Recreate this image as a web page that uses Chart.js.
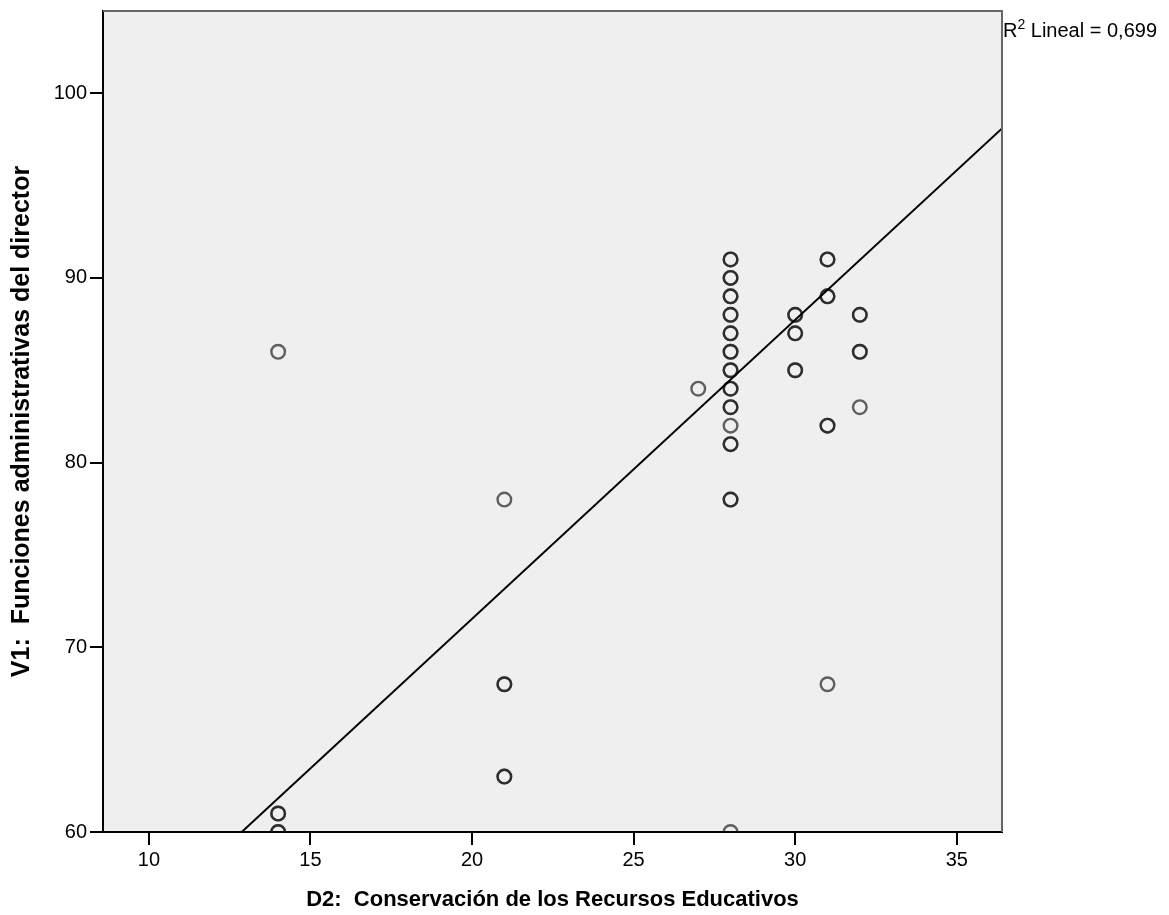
<!DOCTYPE html>
<html>
<head>
<meta charset="utf-8">
<script src="https://cdn.jsdelivr.net/npm/chart.js@4"></script>
<style>
  html, body { margin: 0; padding: 0; background: #fff; }
  #wrap { width: 1169px; height: 915px; }
</style>
</head>
<body>
<div id="wrap"><canvas id="scatterChart"></canvas></div>
<script>
// puntos (duplicados = círculos superpuestos, más oscuros)
const xValues = [14, 14, 14, 14, 14,
                 21, 21, 21, 21, 21,
                 27,
                 28, 28, 28, 28, 28, 28, 28, 28, 28, 28, 28, 28, 28, 28, 28, 28, 28, 28,
                 28, 28, 28, 28, 28, 28,
                 30, 30, 30, 30, 30, 30,
                 31, 31, 31, 31, 31, 31, 31,
                 32, 32, 32, 32, 32];
const yValues = [86, 61, 61, 60, 60,
                 78, 68, 68, 63, 63,
                 84,
                 91, 91, 90, 90, 89, 89, 88, 88, 87, 87, 86, 86, 85, 85, 84, 84, 83, 83,
                 82, 81, 81, 78, 78, 60,
                 88, 88, 87, 87, 85, 85,
                 91, 91, 89, 89, 82, 82, 68,
                 88, 88, 86, 86, 83];

const xTicks = [10, 15, 20, 25, 30, 35];
const yTicks = [60, 70, 80, 90, 100];
const xRange = [8.58, 36.4];
const yRange = [60, 104.45];

const fitSlope = 1.619;
const fitIntercept = 39.16;
const r2Text = '0,699';

const xTitle = 'D2:  Conservación de los Recursos Educativos';
const yTitle = 'V1:  Funciones administrativas del director';

let points = xValues.map((x, i) => ({ x: x, y: yValues[i] }));
let fitLine = xRange.map(x => ({ x: x, y: fitIntercept + fitSlope * x }));

const frame = {
    id: 'frame',
    beforeDraw(chart) {
        const a = chart.chartArea;
        const ctx = chart.ctx;
        ctx.save();
        ctx.fillStyle = '#efefef';
        ctx.fillRect(a.left, a.top, a.right - a.left, a.bottom - a.top);
        ctx.restore();
    },
    afterDraw(chart) {
        const a = chart.chartArea;
        const ctx = chart.ctx;
        ctx.save();
        ctx.strokeStyle = '#666';
        ctx.lineWidth = 2;
        ctx.beginPath();
        ctx.moveTo(a.left, a.top);
        ctx.lineTo(a.right, a.top);
        ctx.lineTo(a.right, a.bottom);
        ctx.stroke();

        // R² Lineal label
        ctx.fillStyle = '#000';
        ctx.textBaseline = 'alphabetic';
        ctx.font = '20px "Liberation Sans", Arial, sans-serif';
        let x = a.right + 1;
        let y = 37;
        ctx.fillText('R', x, y);
        x += ctx.measureText('R').width;
        ctx.font = '14px "Liberation Sans", Arial, sans-serif';
        ctx.fillText('2', x, y - 8);
        x += ctx.measureText('2').width;
        ctx.font = '20px "Liberation Sans", Arial, sans-serif';
        ctx.fillText(' Lineal = ' + r2Text, x, y);
        ctx.restore();
    }
};

let scatterChart = new Chart(document.getElementById('scatterChart'), {
    type: 'scatter',
    data: {
        datasets: [{
            type: 'line',
            data: fitLine,
            borderColor: '#000',
            borderWidth: 2,
            pointRadius: 0,
            fill: false,
            clip: 0,
        }, {
            data: points,
            pointStyle: 'circle',
            pointRadius: 6.8,
            pointBorderWidth: 2.4,
            backgroundColor: 'rgba(0,0,0,0)',
            borderColor: 'rgba(20,20,20,0.66)',
            clip: 0,
        }],
    },
    options: {
        responsive: true,
        maintainAspectRatio: false,
        animation: false,
        layout: {
            padding: { left: 0, top: 11, right: 167, bottom: 0 },
        },
        plugins: {
            legend: { display: false },
            tooltip: { enabled: false },
        },
        scales: {
            x: {
                type: 'linear',
                min: xRange[0],
                max: xRange[1],
                afterBuildTicks: (scale) => { scale.ticks = xTicks.map(v => ({ value: v })); },
                afterFit: (scale) => { scale.height = 83; scale.paddingLeft = 0; scale.paddingRight = 0; },
                grid: { drawOnChartArea: false, drawTicks: true, tickLength: 13, color: '#000', lineWidth: 2 },
                border: { display: true, color: '#000', width: 2 },
                ticks: {
                    color: '#000',
                    padding: 3,
                    font: { family: '"Liberation Sans", Arial, sans-serif', size: 20 },
                },
                title: {
                    display: true,
                    text: xTitle,
                    color: '#000',
                    padding: { top: 0, bottom: 2 },
                    font: { family: '"Liberation Sans", Arial, sans-serif', size: 22, weight: 'bold' },
                },
            },
            y: {
                type: 'linear',
                min: yRange[0],
                max: yRange[1],
                afterBuildTicks: (scale) => { scale.ticks = yTicks.map(v => ({ value: v })); },
                afterFit: (scale) => { scale.width = 103; scale.paddingTop = 0; scale.paddingBottom = 0; },
                grid: { drawOnChartArea: false, drawTicks: true, tickLength: 13, color: '#000', lineWidth: 2 },
                border: { display: true, color: '#000', width: 2 },
                ticks: {
                    color: '#000',
                    padding: 3,
                    font: { family: '"Liberation Sans", Arial, sans-serif', size: 20 },
                },
                title: {
                    display: true,
                    text: yTitle,
                    color: '#000',
                    padding: { top: 7, bottom: 0 },
                    font: { family: '"Liberation Sans", Arial, sans-serif', size: 25, weight: 'bold' },
                },
            },
        },
    },
    plugins: [frame],
});
</script>
</body>
</html>
